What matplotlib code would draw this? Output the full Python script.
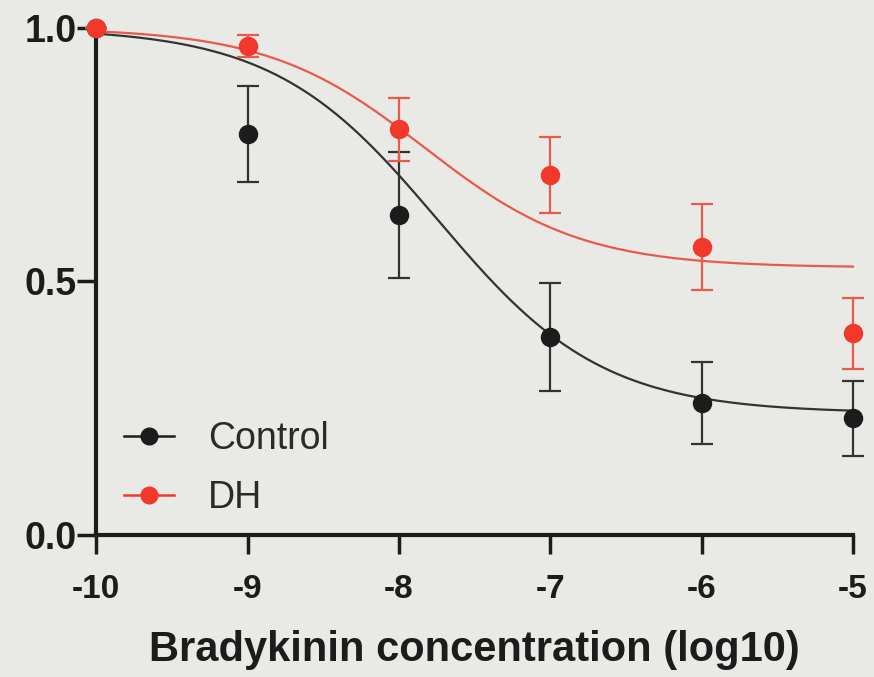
import numpy as np
import matplotlib
matplotlib.use("Agg")
import matplotlib.pyplot as plt
from matplotlib.lines import Line2D

# ---- data ----
log_conc = [-10, -9, -8, -7, -6, -5]
control_mean = [1.00, 0.79, 0.63, 0.39, 0.26, 0.23]
control_err = [0.00, 0.095, 0.124, 0.107, 0.08, 0.074]
dh_mean = [1.00, 0.964, 0.80, 0.71, 0.567, 0.398]
dh_err = [0.00, 0.022, 0.062, 0.075, 0.085, 0.07]

# 4-parameter logistic fit parameters (top, bottom, logIC50, hill)
control_fit = dict(top=1.0, bottom=0.24, logic50=-7.74, hill=0.80)
dh_fit = dict(top=1.0, bottom=0.527, logic50=-7.83, hill=0.84)

xticks = [-10, -9, -8, -7, -6, -5]
yticks = [0.0, 0.5, 1.0]
ytick_labels = ["0.0", "0.5", "1.0"]
xlabel = "Bradykinin concentration (log10)"
series_names = ["Control", "DH"]

BLACK = "#1c1c1c"
RED = "#f2382a"
RED_LINE = "#e85a4a"
BG = "#e9e9e5"


def four_pl(x, top, bottom, logic50, hill):
    return bottom + (top - bottom) / (1 + 10 ** ((np.asarray(x) - logic50) * hill))


fig = plt.figure(figsize=(8.74, 6.77), dpi=100, facecolor=BG)
ax = fig.add_axes([0.110, 0.210, 0.866, 0.749])
ax.set_facecolor(BG)

xs = np.linspace(-10, -5, 300)
ax.plot(xs, four_pl(xs, **control_fit), color="#333333", lw=1.6, zorder=2, clip_on=False)
ax.plot(xs, four_pl(xs, **dh_fit), color=RED_LINE, lw=1.6, zorder=2, clip_on=False)

for mean, err, col, ecol in [(control_mean, control_err, BLACK, "#333333"),
                             (dh_mean, dh_err, RED, RED_LINE)]:
    eb = ax.errorbar(log_conc, mean, yerr=err, fmt="o", color=col, ecolor=ecol,
                     markersize=13, elinewidth=1.6, capsize=8, capthick=1.6,
                     zorder=3, clip_on=False)
    for art in eb.lines[1] + eb.lines[2]:
        art.set_clip_on(False)

ax.set_xlim(-10, -5)
ax.set_ylim(0, 1)
for s in ["top", "right"]:
    ax.spines[s].set_visible(False)
for s in ["left", "bottom"]:
    ax.spines[s].set_linewidth(3)
    ax.spines[s].set_color(BLACK)

ax.set_xticks(xticks)
ax.set_xticklabels([str(t) for t in xticks])
ax.set_yticks(yticks)
ax.set_yticklabels(ytick_labels)
ax.tick_params(axis="both", direction="out", length=14, width=2.5, color=BLACK)
ax.tick_params(axis="x", pad=14)
ax.tick_params(axis="y", pad=0)
for lab in ax.get_xticklabels():
    lab.set_family(["Liberation Sans"])
    lab.set_fontweight("bold")
    lab.set_fontsize(24)
    lab.set_color(BLACK)
for lab in ax.get_yticklabels():
    lab.set_family(["Liberation Sans"])
    lab.set_fontweight("bold")
    lab.set_fontsize(27)
    lab.set_color(BLACK)

ax.set_xlabel(xlabel, fontsize=30, fontweight="bold", color=BLACK,
              family=["Liberation Sans"], labelpad=18)

handles = [
    Line2D([0], [0], color=BLACK, marker="o", markersize=12, lw=1.8),
    Line2D([0], [0], color=RED, marker="o", markersize=12, lw=1.8),
]
leg = ax.legend(handles, series_names, loc="lower left", bbox_to_anchor=(-0.008, -0.03),
                frameon=False, handlelength=1.35, handletextpad=0.9, labelspacing=0.62,
                prop={"family": "Liberation Sans", "size": 27})
for t in leg.get_texts():
    t.set_color("#2a2a2a")

fig.savefig("out.png", dpi=100, facecolor=BG)
